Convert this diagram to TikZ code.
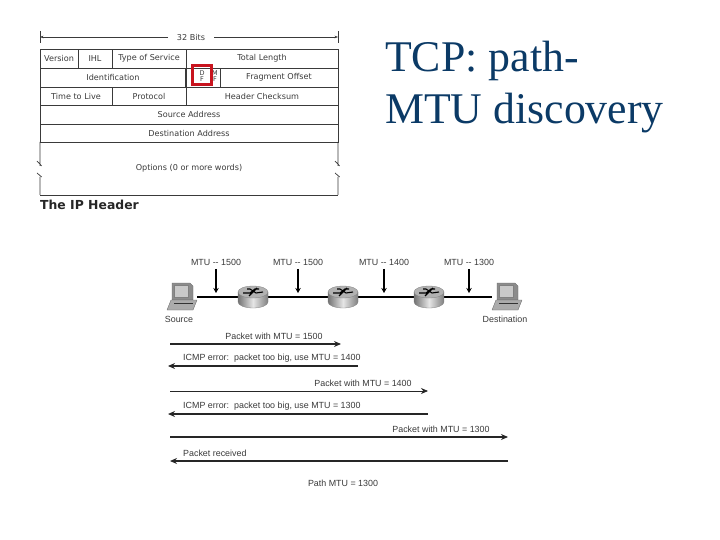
\documentclass[tikz,border=0pt]{standalone}
\usepackage{fontspec}
\setmainfont{Liberation Serif}
\newfontfamily\hdrfont{DejaVu Sans}
\newfontfamily\netfont{Liberation Sans}
\usepackage{tikz}
\usetikzlibrary{positioning, arrows.meta}
\definecolor{dnavy}{HTML}{0B3A66}
\definecolor{dgray}{HTML}{3A3A3A}
\definecolor{dred}{HTML}{C8141E}
\definecolor{mgray}{HTML}{8C8C8C}
\definecolor{lgray}{HTML}{C9C9C9}

\begin{document}
\begin{tikzpicture}[
    x=1pt, y=1pt,
    cell/.style={rectangle, draw=dgray, line width=0.8pt, inner sep=0pt, outer sep=0pt, font=\hdrfont\fontsize{8.1}{9}\selectfont, text=dgray, align=center},
    tiny/.style={inner sep=0pt, font=\hdrfont\fontsize{6.5}{6}\selectfont, text=dgray, align=center},
    dim/.style={-{Stealth[length=3.5pt]}, line width=0.6pt, dgray},
    lbl/.style={inner sep=0pt, font=\netfont\fontsize{8.9}{10}\selectfont, text=dgray},
    hop/.style={minimum width=30pt, minimum height=24pt, inner sep=0pt},
    drop/.style={-{Stealth[length=5pt, width=5.5pt]}, line width=1.3pt, black},
    flow/.style={-{Stealth[length=7pt, width=6pt]}, line width=1.2pt, black!85},
]
\useasboundingbox (0,0) rectangle (720,-540);

% Title
\node[anchor=base west, inner sep=0pt, text=dnavy, font=\fontsize{43.8}{44}\selectfont] (title) at (385,-72) {TCP: path-};
\node[anchor=base west, inner sep=0pt, text=dnavy, font=\fontsize{43.8}{44}\selectfont] (title2) at (385,-124) {MTU discovery};

% IP header
\node[inner sep=0pt, font=\hdrfont\fontsize{8.1}{9}\selectfont, text=dgray] (bits) at (191,-37) {32 Bits};
\coordinate (bitsl) at (40,-37);
\coordinate (bitsr) at (338,-37);
\draw[dim] (bits) ++(-23,0) -- (bitsl);
\draw[dim] (bits) ++(23,0) -- (bitsr);
\draw[line width=0.6pt, dgray] (40,-31) -- (40,-43) (338,-31) -- (338,-43);

\node[cell, minimum width=38pt, minimum height=19pt] (version) at (59,-58.5) {Version};
\node[cell, minimum width=34pt, minimum height=19pt, right=0pt of version] (ihl) {IHL};
\node[cell, minimum width=74pt, minimum height=19pt, right=0pt of ihl] (tos) {Type of Service};
\node[cell, minimum width=152pt, minimum height=19pt, right=0pt of tos] (total) {Total Length};
\node[cell, minimum width=146pt, minimum height=19pt] (ident) at (113,-77.5) {Identification};
\node[cell, minimum width=34pt, minimum height=19pt, right=0pt of ident] (flags) {};
\node[cell, minimum width=118pt, minimum height=19pt, right=0pt of flags] (frag) {Fragment Offset};
\node[cell, minimum width=72pt, minimum height=18pt] (ttl) at (76,-96) {Time to Live};
\node[cell, minimum width=74pt, minimum height=18pt, right=0pt of ttl] (proto) {Protocol};
\node[cell, minimum width=152pt, minimum height=18pt, right=0pt of proto] (check) {Header Checksum};
\node[cell, minimum width=298pt, minimum height=19pt] (src) at (189,-114.5) {Source Address};
\node[cell, minimum width=298pt, minimum height=18pt, below=0pt of src] (dst) {Destination Address};
\node[cell, draw=none, minimum width=298pt, minimum height=53pt, below=0pt of dst] (opts) {Options (0 or more words)};
\draw[line width=1.4pt, dgray] (flags.north west) -- (flags.south west);

% Flags
\node[tiny] (df) at (202,-76.5) {D\\F};
\node[tiny] (mf) at (215,-76.5) {M\\F};
\node[rectangle, draw=dred, line width=3pt, minimum width=19pt, minimum height=19pt, inner sep=0pt] (mark) at (201.5,-75.5) {};

% Options sides, with breaks
\draw[line width=0.8pt, dgray] (opts.south west) -- (opts.south east);
\foreach \c in {west, east} {
  \draw[line width=0.7pt, dgray] (opts.north \c) -- ++(0,-24) ++(1.7,0) -- ++(-4.7,5);
  \draw[line width=0.7pt, dgray] (opts.south \c) -- ++(0,18) ++(1.7,0) -- ++(-4.7,4);
}

\node[anchor=west, inner sep=0pt, font=\hdrfont\bfseries\fontsize{12.4}{13}\selectfont, text=black!85] (caption) at (40,-205) {The IP Header};

% Network
\node[hop] (source) at (182,-297) {};
\node[hop] (rta) at (253,-297) {};
\node[hop] (rtb) at (343,-297) {};
\node[hop] (rtc) at (429,-297) {};
\node[hop] (dest) at (507,-297) {};
\draw[line width=1.3pt, black] (source) -- (rta) -- (rtb) -- (rtc) -- (dest);

\foreach \p in {source,dest} {
  \begin{scope}[shift={(\p.center)}]
    \fill[mgray, draw=black!60, line width=0.3pt] (-10,14) -- (8,14) -- (11,11) -- (11,-3) -- (-10,-3) -- cycle;
    \fill[lgray, draw=black!50, line width=0.3pt] (-8,12) -- (6,12) -- (6,0) -- (-8,0) -- cycle;
    \fill[lgray!85!black, draw=black!60, line width=0.3pt] (-11,-3) -- (15,-3) -- (11,-13) -- (-15,-13) -- cycle;
    \draw[line width=0.7pt, black!80] (-8,-6) -- (11,-6);
  \end{scope}
}
\foreach \r in {rta,rtb,rtc} {
  \begin{scope}[shift={(\r.center)}]
    \shade[left color=black!55, right color=black!50, middle color=black!10, draw=black!50, line width=0.3pt]
      (-15,5) -- (-15,-5) arc[start angle=180, end angle=360, x radius=15, y radius=6] -- (15,5) -- cycle;
    \fill[black!30, draw=black!50, line width=0.3pt] (0,5) ellipse[x radius=15, y radius=6];
    \draw[line width=1.1pt, black] (-10,4) -- (-3,4) -- (2,8) -- (6,8) (10,5) -- (3,4) -- (-3,8) -- (-6,8) (-4,1) -- (4,9);
  \end{scope}
}

\node[lbl] (srclbl) at (179,-319) {Source};
\node[lbl] (dstlbl) at (505,-319) {Destination};

% MTU drops
\foreach \n/\x/\t in {a/216/1500, b/298/1500, c/384/1400, d/469/1300} {
  \node[lbl] (mtu\n) at (\x,-262.5) {MTU -- \t};
  \coordinate (tip\n) at (\x,-293);
  \draw[drop, shorten <=3pt] (mtu\n) -- (tip\n);
}

% Exchange
\coordinate (fa) at (170,-344);  \coordinate (fb) at (341,-344);
\coordinate (fc) at (358,-366);  \coordinate (fd) at (168,-366);
\coordinate (fe) at (170,-391);  \coordinate (ff) at (428,-391);
\coordinate (fg) at (428,-414);  \coordinate (fh) at (168,-414);
\coordinate (fi) at (170,-437);  \coordinate (fj) at (508,-437);
\coordinate (fk) at (508,-461);  \coordinate (fl) at (170,-461);
\draw[flow] (fa) -- (fb);
\draw[flow] (fc) -- (fd);
\draw[flow, line width=0.8pt] (fe) -- (ff);
\draw[flow] (fg) -- (fh);
\draw[flow] (fi) -- (fj);
\draw[flow] (fk) -- (fl);

\node[lbl] (pkta) at (274,-336) {Packet with MTU = 1500};
\node[lbl, anchor=west] (icmpa) at (183,-358) {ICMP error:\ \ packet too big, use MTU = 1400};
\node[lbl] (pktb) at (363,-383) {Packet with MTU = 1400};
\node[lbl, anchor=west] (icmpb) at (183,-406.5) {ICMP error:\ \ packet too big, use MTU = 1300};
\node[lbl] (pktc) at (441,-429) {Packet with MTU = 1300};
\node[lbl, anchor=west] (recv) at (183,-453) {Packet received};
\node[lbl] (path) at (343,-483) {Path MTU = 1300};

\end{tikzpicture}
\end{document}
